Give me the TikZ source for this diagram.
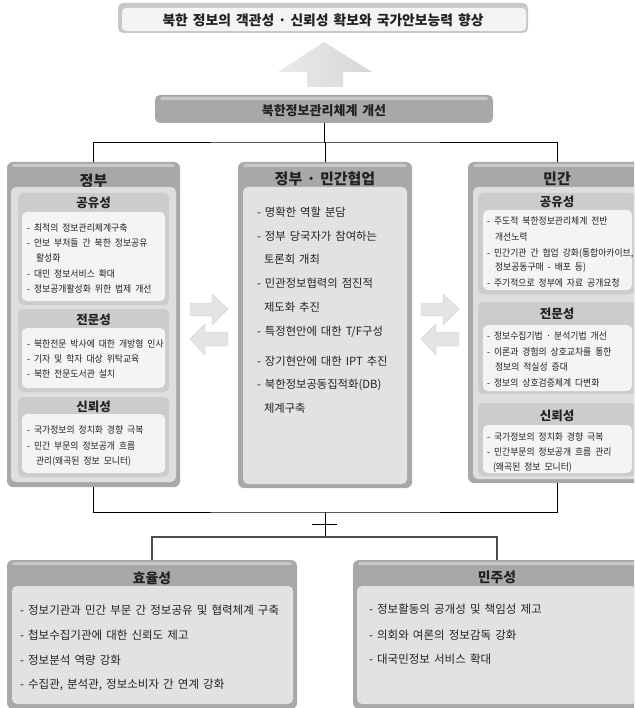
\documentclass[tikz,border=0pt]{standalone}
\usepackage{fontspec}
\setmainfont{Noto Sans CJK KR}
\newfontfamily\krs[FakeStretch=0.93, WordSpace=2]{Noto Sans CJK KR}
\newfontfamily\krw[WordSpace=1.6]{Noto Sans CJK KR}
\newcommand\kdot{\kern-0.08em·\kern-0.08em}
\usetikzlibrary{fit,calc}
\definecolor{rimc}{HTML}{A8A8A8}
\definecolor{hlc}{HTML}{C8C8C8}
\definecolor{panc}{HTML}{DEDEDE}
\definecolor{subc}{HTML}{CCCCCC}
\definecolor{conc}{HTML}{F4F4F4}
\definecolor{midc}{HTML}{E2E2E2}
\definecolor{txtc}{HTML}{222222}
\definecolor{arrc}{HTML}{E4E4E4}
\definecolor{arrd}{HTML}{D2D2D2}
\tikzset{
  x=1pt, y=-1pt,
  every node/.style={inner sep=0pt, outer sep=0pt},
  rimbox/.style={fill=rimc, rounded corners=6pt},
  hlbox/.style={fill=hlc, rounded corners=1.5pt},
  panbox/.style={fill=panc, rounded corners=5pt},
  midbox/.style={fill=midc, rounded corners=5pt},
  subbox/.style={fill=subc, rounded corners=5pt},
  conbox/.style={fill=conc, rounded corners=5pt},
  hdrbig/.style={font=\krw\bfseries\fontsize{15}{17}\selectfont, text=txtc},
  hdrbot/.style={font=\krw\bfseries\fontsize{13.8}{16}\selectfont, text=txtc},
  hdrsub/.style={font=\bfseries\fontsize{12.5}{14}\selectfont, text=txtc},
  smallitem/.style={anchor=west, font=\krs\fontsize{9.5}{11}\selectfont, text=txtc},
  miditem/.style={anchor=west, font=\krw\fontsize{11.3}{13}\selectfont, text=txtc},
  bigitem/.style={anchor=west, font=\krw\fontsize{11.5}{13}\selectfont, text=txtc},
  conn/.style={draw=black, line width=0.9pt},
  conngray/.style={draw=black!70, line width=1.1pt},
  bidir/.style={fill=arrc, draw=arrd, line width=0.4pt, line join=round},
}
\begin{document}
\begin{tikzpicture}
\useasboundingbox (0,0) rectangle (634,708);
\clip (0,0) rectangle (634,708);
\fill[white] (0,0) rectangle (634,708);

% ---- title box
\node[fit={(118,3)(528,33)}, fill=hlc, rounded corners=5pt] (goal) {};
\node[fit={(122,8)(526,31)}, fill=conc, rounded corners=4pt] (goalin) {};
\node[font=\krw\bfseries\fontsize{13.8}{16}\selectfont, text=txtc] (goalt) at (323,20) {북한 정보의 객관성 \kdot{} 신뢰성 확보와 국가안보능력 향상};

% ---- big up arrow
\shade[left color=white!92!black, right color=white!84!black]
  (307,87) -- (307,72) -- (278,72) -- (324,42) -- (372,72) -- (343,72) -- (343,87) -- cycle;

% ---- improvement box
\node[fit={(155,95)(493,123)}, rimbox, rounded corners=5pt] (mid) {};
\node[fit={(160,97)(488,100)}, hlbox] (midhl) {};
\node[font=\krw\bfseries\fontsize{13}{15}\selectfont, text=txtc] (midt) at (324,111) {북한정보관리체계 개선};

% ---- government column
\node[fit={(7,162)(180,487)}, rimbox] (gov) {};
\node[fit={(12,164)(175,167)}, hlbox] (govhl) {};
\node[hdrbig] (govh) at (93.5,181) {정부};
\node[fit={(11,187)(176,482)}, panbox] (govp) {};
\node[fit={(18,193)(169,305)}, subbox] (gs1) {};
\node[hdrsub] (gs1h) at (93.5,203) {공유성};
\node[fit={(22,212)(165,301)}, conbox] (gc1) {};
\node[smallitem] (g11) at (27,228) {- 최적의 정보관리체계구축};
\node[smallitem] (g12) at (27,243) {- 안보 부처들 간 북한 정보공유};
\node[smallitem] (g13) at (36,258) {활성화};
\node[smallitem] (g14) at (27,274) {- 대민 정보서비스 확대};
\node[smallitem] (g15) at (27,289) {- 정보공개활성화 위한 법제 개선};
\node[fit={(18,309)(169,392)}, subbox] (gs2) {};
\node[hdrsub] (gs2h) at (93.5,320) {전문성};
\node[fit={(22,328)(165,388)}, conbox] (gc2) {};
\node[smallitem] (g21) at (27,344) {- 북한전문 박사에 대한 개방형 인사};
\node[smallitem] (g22) at (27,359) {- 기자 및 학자 대상 위탁교육};
\node[smallitem] (g23) at (27,374) {- 북한 전문도서관 설치};
\node[fit={(18,397)(169,477)}, subbox] (gs3) {};
\node[hdrsub] (gs3h) at (93.5,407) {신뢰성};
\node[fit={(22,414)(165,473)}, conbox] (gc3) {};
\node[smallitem] (g31) at (27,430) {- 국가정보의 정치화 경향 극복};
\node[smallitem] (g32) at (27,446) {- 민간 부문의 정보공개 흐름};
\node[smallitem] (g33) at (36,461) {관리(왜곡된 정보 모니터)};

% ---- cooperation column
\node[fit={(238,162)(412,488)}, rimbox] (co) {};
\node[fit={(243,164)(407,167)}, hlbox] (cohl) {};
\node[hdrbig] (coh) at (325,179) {정부 \kdot{} 민간협업};
\node[fit={(243,187)(407,484)}, midbox] (cop) {};
\node[miditem] (c1) at (257,212) {- 명확한 역할 분담};
\node[miditem] (c2) at (257,236) {- 정부 당국자가 참여하는};
\node[miditem] (c3) at (264,259) {토론회 개최};
\node[miditem] (c4) at (257,283) {- 민관정보협력의 점진적};
\node[miditem] (c5) at (264,307) {제도화 추진};
\node[miditem] (c6) at (257,332) {- 특정현안에 대한 T/F구성};
\node[miditem] (c7) at (257,361) {- 장기현안에 대한 IPT 추진};
\node[miditem] (c8) at (257,385) {- 북한정보공동집적화(DB)};
\node[miditem] (c9) at (264,408) {체계구축};

% ---- civilian column
\node[fit={(468,162)(646,483)}, rimbox] (civ) {};
\node[fit={(473,164)(641,167)}, hlbox] (civhl) {};
\node[hdrbig] (civh) at (557,179) {민간};
\node[fit={(473,187)(641,479)}, panbox] (civp) {};
\node[fit={(478,193)(636,294)}, subbox] (vs1) {};
\node[hdrsub] (vs1h) at (557,202) {공유성};
\node[fit={(483,210)(632,290)}, conbox] (vc1) {};
\node[smallitem] (v11) at (487,221) {- 주도적 북한정보관리체계 전반};
\node[smallitem] (v12) at (495,237) {개선노력};
\node[smallitem] (v13) at (487,253) {- 민간기관 간 협업 강화(통합아카이브,};
\node[smallitem] (v14) at (495,268) {정보공동구매 - 배포 등)};
\node[smallitem] (v15) at (487,283) {- 주기적으로 정부에 자료 공개요청};
\node[fit={(478,302)(636,394)}, subbox] (vs2) {};
\node[hdrsub] (vs2h) at (557,314) {전문성};
\node[fit={(483,325)(632,391)}, conbox] (vc2) {};
\node[smallitem] (v21) at (487,336) {- 정보수집기법 \kdot{} 분석기법 개선};
\node[smallitem] (v22) at (487,352) {- 이론과 경험의 상호교차를 통한};
\node[smallitem] (v23) at (495,367) {정보의 적실성 증대};
\node[smallitem] (v24) at (487,383) {- 정보의 상호검증체계 다변화};
\node[fit={(478,403)(636,476)}, subbox] (vs3) {};
\node[hdrsub] (vs3h) at (557,416) {신뢰성};
\node[fit={(483,425)(632,473)}, conbox] (vc3) {};
\node[smallitem] (v31) at (487,437) {- 국가정보의 정치화 경향 극복};
\node[smallitem] (v32) at (487,452) {- 민간부문의 정보공개 흐름 관리};
\node[smallitem] (v33) at (493,467) {(왜곡된 정보 모니터)};

% ---- two-way arrows
\path[bidir] (190,303) -- (212,303) -- (212,294) -- (228,309) -- (212,325) -- (212,316) -- (190,316) -- cycle;
\path[bidir] (228,332) -- (205,332) -- (205,324) -- (190,339) -- (205,355) -- (205,346) -- (228,346) -- cycle;
\path[bidir] (421,303) -- (443,303) -- (443,294) -- (459,309) -- (443,325) -- (443,316) -- (421,316) -- cycle;
\path[bidir] (459,332) -- (436,332) -- (436,324) -- (421,339) -- (436,355) -- (436,346) -- (459,346) -- cycle;

% ---- efficiency box
\node[fit={(7,560)(297,709)}, rimbox] (eff) {};
\node[fit={(12,562)(292,565)}, hlbox] (effhl) {};
\node[hdrbot] (effh) at (152,578) {효율성};
\node[fit={(12,586)(293,704)}, midbox] (effp) {};
\node[bigitem] (e1) at (20,610) {- 정보기관과 민간 부문 간 정보공유 및 협력체계 구축};
\node[bigitem] (e2) at (20,635) {- 첩보수집기관에 대한 신뢰도 제고};
\node[bigitem] (e3) at (20,660) {- 정보분석 역량 강화};
\node[bigitem] (e4) at (20,685) {- 수집관, 분석관, 정보소비자 간 연계 강화};

% ---- democracy box
\node[fit={(353,560)(641,709)}, rimbox] (dem) {};
\node[fit={(358,562)(636,565)}, hlbox] (demhl) {};
\node[hdrbot] (demh) at (497,577) {민주성};
\node[fit={(357,586)(637,704)}, midbox] (demp) {};
\node[bigitem] (d1) at (369,609) {- 정보활동의 공개성 및 책임성 제고};
\node[bigitem] (d2) at (369,635) {- 의회와 여론의 정보감독 강화};
\node[bigitem] (d3) at (369,659) {- 대국민정보 서비스 확대};

% ---- connectors
\coordinate (jt) at (325,142);
\draw[conn] (mid.south) -- (mid.south |- jt);
\draw[conn] (gov.north) |- (jt) -| (civ.north);
\draw[conn] (jt) -- (co.north);
\coordinate (jb) at (325,512);
\coordinate (jc) at (325,537);
\draw[conn] (gov.south) |- (jb) -| (civ.south);
\draw[conn] (jb) -- (jc);
\coordinate (tkl) at (312,524);
\coordinate (tkr) at (337,524);
\draw[conn] (tkl) -- (tkr);
\draw[conngray] (eff.north) |- (jc) -| (dem.north);
\end{tikzpicture}
\end{document}
